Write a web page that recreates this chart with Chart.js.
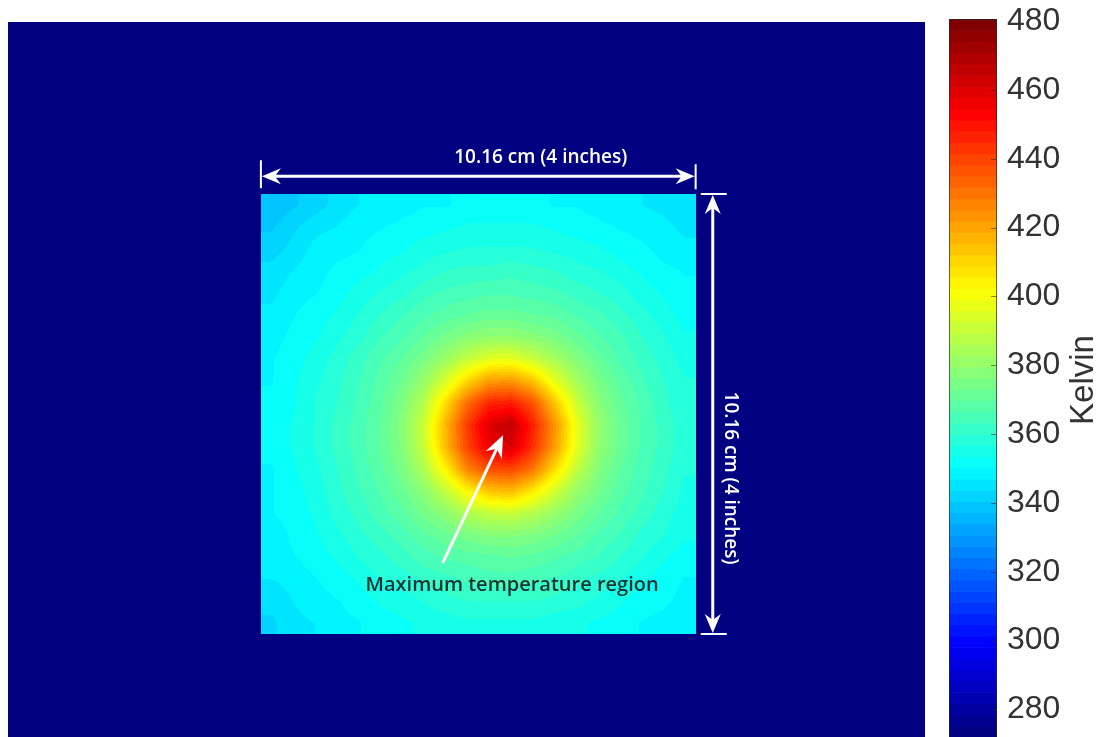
<!DOCTYPE html>
<html>
<head>
<meta charset="utf-8">
<script src="https://cdn.jsdelivr.net/npm/chart.js@4.4.1/dist/chart.umd.min.js"></script>
<style>
    body { margin: 0; background: #fff; width: 1108px; height: 737px; overflow: hidden; position: relative; }
    canvas { position: absolute; }
    #heat { left: 8px; top: 22px; }
    #bar { left: 940px; top: 0px; }
</style>
</head>
<body>
<canvas id="heat" width="917" height="715"></canvas>
<canvas id="bar" width="168" height="737"></canvas>
<script>
// Colour scale limits (Kelvin) and colorbar ticks
const colorMin = 272;
const colorMax = 480.6;
const tickValues = [280, 300, 320, 340, 360, 380, 400, 420, 440, 460, 480];

// Background (cold surroundings) temperature
const backgroundTemp = 274;

// Plate position in cm inside the camera frame
const frameWidth = 21.43;
const frameHeight = 16.51;
const plateLeft = 5.91;
const plateTop = 3.97;
const plateSize = 10.16;

// Plate temperatures (K), 20 x 20 cells, top row first
const plateTemps = [
    [338, 340, 342, 345, 347, 348, 349, 350, 350, 351, 351, 351, 351, 350, 350, 349, 348, 347, 346, 344],
    [340, 343, 346, 347, 349, 350, 351, 352, 353, 354, 354, 354, 354, 353, 352, 351, 350, 349, 348, 346],
    [342, 345, 348, 349, 350, 352, 353, 355, 356, 357, 357, 357, 357, 356, 355, 354, 352, 351, 349, 348],
    [345, 347, 349, 351, 352, 354, 356, 358, 360, 361, 361, 362, 361, 360, 358, 357, 355, 353, 351, 350],
    [346, 349, 350, 352, 355, 357, 359, 362, 364, 365, 366, 366, 365, 364, 362, 360, 358, 355, 353, 351],
    [348, 350, 352, 354, 357, 360, 363, 366, 368, 370, 371, 371, 370, 369, 366, 364, 361, 358, 355, 352],
    [349, 351, 353, 356, 359, 363, 366, 370, 374, 378, 380, 380, 378, 375, 371, 367, 364, 360, 357, 354],
    [350, 352, 355, 358, 362, 366, 370, 375, 382, 390, 396, 397, 391, 384, 377, 371, 366, 362, 359, 355],
    [350, 353, 356, 359, 363, 368, 373, 381, 394, 410, 422, 423, 414, 397, 384, 375, 369, 364, 360, 357],
    [351, 353, 357, 360, 364, 369, 376, 387, 409, 432, 446, 448, 437, 414, 392, 378, 371, 366, 361, 357],
    [351, 354, 357, 361, 365, 370, 378, 392, 417, 442, 460, 466, 447, 424, 398, 381, 372, 366, 362, 358],
    [351, 354, 357, 361, 365, 370, 377, 391, 416, 440, 457, 461, 444, 422, 397, 380, 372, 366, 362, 358],
    [350, 353, 356, 360, 364, 369, 375, 386, 404, 427, 438, 440, 430, 409, 390, 377, 370, 365, 361, 357],
    [350, 352, 355, 359, 363, 367, 372, 379, 390, 403, 414, 416, 406, 393, 381, 374, 368, 364, 360, 356],
    [350, 352, 354, 358, 361, 365, 369, 374, 379, 386, 390, 391, 387, 381, 375, 370, 366, 362, 358, 355],
    [348, 351, 353, 356, 359, 362, 365, 369, 372, 375, 377, 377, 376, 373, 370, 366, 363, 359, 357, 354],
    [348, 350, 352, 354, 357, 359, 362, 365, 367, 368, 369, 370, 369, 367, 365, 363, 360, 357, 354, 352],
    [347, 348, 350, 352, 354, 357, 358, 361, 362, 364, 365, 365, 364, 363, 361, 359, 357, 354, 352, 350],
    [345, 347, 349, 350, 352, 354, 355, 357, 359, 360, 360, 360, 360, 359, 358, 356, 354, 352, 351, 349],
    [343, 346, 347, 349, 350, 352, 353, 354, 355, 356, 356, 356, 356, 355, 354, 353, 352, 350, 349, 347]
];

// Annotation anchors (cm, same frame as the plate)
const widthArrowY = 3.56;
const heightArrowX = 16.47;
const widthLabel = { x: 12.45, y: 3.12, text: '10.16 cm (4 inches)' };
const heightLabel = { x: 16.89, y: 10.53, text: '10.16 cm (4 inches)' };
const hotLabel = { x: 11.78, y: 13.0, text: 'Maximum temperature region' };
const pointerFrom = { x: 10.16, y: 12.49 };
const pointerTo = { x: 11.57, y: 9.54 };

// MATLAB style jet colormap, 64 levels
const LEVELS = 64;
const clamp01 = v => Math.max(0, Math.min(1, v));
const palette = [];
for (let i = 0; i < LEVELS; i++) {
    const t = i / (LEVELS - 1);
    palette.push([
        Math.round(255 * clamp01(1.5 - Math.abs(4 * t - 3))),
        Math.round(255 * clamp01(1.5 - Math.abs(4 * t - 2))),
        Math.round(255 * clamp01(1.5 - Math.abs(4 * t - 1)))
    ]);
}
function colorIndex(temp) {
    const i = Math.floor((temp - colorMin) / (colorMax - colorMin) * LEVELS);
    return Math.max(0, Math.min(LEVELS - 1, i));
}
function colorFor(temp) {
    const c = palette[colorIndex(temp)];
    return `rgb(${c[0]},${c[1]},${c[2]})`;
}

// Temperature at a fractional cell position (shading interp)
function sampleGrid(u, v) {
    const rows = plateTemps.length, cols = plateTemps[0].length;
    u = Math.max(0, Math.min(cols - 1, u));
    v = Math.max(0, Math.min(rows - 1, v));
    const c0 = Math.floor(u), r0 = Math.floor(v);
    const c1 = Math.min(cols - 1, c0 + 1), r1 = Math.min(rows - 1, r0 + 1);
    const fu = u - c0, fv = v - r0;
    const top = plateTemps[r0][c0] * (1 - fu) + plateTemps[r0][c1] * fu;
    const bot = plateTemps[r1][c0] * (1 - fu) + plateTemps[r1][c1] * fu;
    return top * (1 - fv) + bot * fv;
}

function drawHead(ctx, fx, fy, tx, ty, len, half, notch) {
    const a = Math.atan2(ty - fy, tx - fx);
    const cos = Math.cos(a), sin = Math.sin(a);
    ctx.beginPath();
    ctx.moveTo(tx, ty);
    ctx.lineTo(tx - len * cos + half * sin, ty - len * sin - half * cos);
    ctx.lineTo(tx - notch * cos, ty - notch * sin);
    ctx.lineTo(tx - len * cos - half * sin, ty - len * sin + half * cos);
    ctx.closePath();
    ctx.fill();
}

// Thermal image: cold background + plate cells
const heatmapPlugin = {
    id: 'heatmap',
    beforeDatasetsDraw(chart) {
        const { ctx, chartArea: a, scales: { x, y } } = chart;
        ctx.save();
        ctx.fillStyle = colorFor(backgroundTemp);
        ctx.fillRect(a.left, a.top, a.width, a.height);

        const x0 = x.getPixelForValue(plateLeft);
        const x1 = x.getPixelForValue(plateLeft + plateSize);
        const y0 = y.getPixelForValue(plateTop);
        const y1 = y.getPixelForValue(plateTop + plateSize);
        const w = Math.round(x1 - x0), h = Math.round(y1 - y0);
        const rows = plateTemps.length, cols = plateTemps[0].length;

        const off = document.createElement('canvas');
        off.width = w;
        off.height = h;
        const octx = off.getContext('2d');
        const img = octx.createImageData(w, h);
        for (let py = 0; py < h; py++) {
            const v = (py + 0.5) / h * rows - 0.5;
            for (let px = 0; px < w; px++) {
                const u = (px + 0.5) / w * cols - 0.5;
                const c = palette[colorIndex(sampleGrid(u, v))];
                const k = (py * w + px) * 4;
                img.data[k] = c[0];
                img.data[k + 1] = c[1];
                img.data[k + 2] = c[2];
                img.data[k + 3] = 255;
            }
        }
        octx.putImageData(img, 0, 0);
        ctx.drawImage(off, Math.round(x0), Math.round(y0));
        ctx.restore();
    },
    afterDatasetsDraw(chart) {
        const { ctx, scales: { x, y } } = chart;
        const px = v => x.getPixelForValue(v);
        const py = v => y.getPixelForValue(v);
        ctx.save();
        ctx.strokeStyle = '#fff';
        ctx.fillStyle = '#fff';

        // width dimension
        const hx0 = px(plateLeft), hx1 = px(plateLeft + plateSize), hy = py(widthArrowY);
        ctx.lineWidth = 3;
        ctx.beginPath();
        ctx.moveTo(hx0 + 6, hy);
        ctx.lineTo(hx1 - 6, hy);
        ctx.stroke();
        ctx.lineWidth = 2;
        ctx.beginPath();
        ctx.moveTo(hx0, hy - 16); ctx.lineTo(hx0, hy + 12);
        ctx.moveTo(hx1, hy - 12); ctx.lineTo(hx1, hy + 13);
        ctx.stroke();
        drawHead(ctx, hx1, hy, hx0 + 1, hy, 19, 8, 13);
        drawHead(ctx, hx0, hy, hx1 - 1, hy, 19, 8, 13);

        // height dimension
        const vx = px(heightArrowX), vy0 = py(plateTop), vy1 = py(plateTop + plateSize);
        ctx.lineWidth = 3;
        ctx.beginPath();
        ctx.moveTo(vx, vy0 + 6);
        ctx.lineTo(vx, vy1 - 6);
        ctx.stroke();
        ctx.lineWidth = 2;
        ctx.beginPath();
        ctx.moveTo(vx - 12, vy0); ctx.lineTo(vx + 14, vy0);
        ctx.moveTo(vx - 12, vy1); ctx.lineTo(vx + 14, vy1);
        ctx.stroke();
        drawHead(ctx, vx, vy1, vx, vy0 + 1, 19, 8, 13);
        drawHead(ctx, vx, vy0, vx, vy1 - 1, 19, 8, 13);

        // pointer to the hot spot
        const fx = px(pointerFrom.x), fy = py(pointerFrom.y);
        const tx = px(pointerTo.x), ty = py(pointerTo.y);
        ctx.lineWidth = 3;
        ctx.beginPath();
        ctx.moveTo(fx, fy);
        ctx.lineTo(tx - (tx - fx) * 0.08, ty - (ty - fy) * 0.08);
        ctx.stroke();
        drawHead(ctx, fx, fy, tx, ty, 22, 9, 15);

        // labels
        ctx.font = '600 19px "Open Sans", "Noto Sans", sans-serif';
        ctx.textAlign = 'center';
        ctx.textBaseline = 'middle';
        ctx.fillText(widthLabel.text, px(widthLabel.x), py(widthLabel.y));
        ctx.save();
        ctx.translate(px(heightLabel.x), py(heightLabel.y));
        ctx.rotate(Math.PI / 2);
        ctx.fillText(heightLabel.text, 0, 0);
        ctx.restore();

        ctx.fillStyle = '#173232';
        ctx.font = '600 20px "Open Sans", "Noto Sans", sans-serif';
        ctx.fillText(hotLabel.text, px(hotLabel.x), py(hotLabel.y));
        ctx.restore();
    }
};

// Colorbar: 64 bands drawn along the Kelvin scale
const colorbarPlugin = {
    id: 'colorbar',
    beforeDatasetsDraw(chart) {
        const { ctx, chartArea: a, scales: { y } } = chart;
        ctx.save();
        for (let i = 0; i < LEVELS; i++) {
            const lo = colorMin + (colorMax - colorMin) * i / LEVELS;
            const hi = colorMin + (colorMax - colorMin) * (i + 1) / LEVELS;
            const yTop = y.getPixelForValue(hi), yBot = y.getPixelForValue(lo);
            const c = palette[i];
            ctx.fillStyle = `rgb(${c[0]},${c[1]},${c[2]})`;
            ctx.fillRect(a.left, yTop, a.width, yBot - yTop + 0.6);
        }
        // tick marks on the inner right edge
        ctx.strokeStyle = 'rgba(40,40,40,0.55)';
        ctx.lineWidth = 1;
        ctx.beginPath();
        tickValues.forEach(v => {
            const ty = Math.round(y.getPixelForValue(v)) + 0.5;
            ctx.moveTo(a.right - 6, ty);
            ctx.lineTo(a.right, ty);
        });
        ctx.stroke();
        ctx.strokeStyle = 'rgba(40,40,40,0.7)';
        ctx.strokeRect(a.left + 0.5, a.top + 0.5, a.width - 1, a.height);

        // axis label, reading bottom to top
        ctx.translate(y.right - 24, (a.top + a.bottom) / 2 + 2);
        ctx.rotate(-Math.PI / 2);
        ctx.fillStyle = '#333';
        ctx.font = '33px "Liberation Sans", Arial, sans-serif';
        ctx.textAlign = 'center';
        ctx.textBaseline = 'middle';
        ctx.fillText('Kelvin', 0, 0);
        ctx.restore();
    }
};

document.addEventListener('DOMContentLoaded', function() {
    // Cell centres go in as a (hidden) dataset so the chart owns them
    const cells = [];
    const step = plateSize / plateTemps.length;
    plateTemps.forEach((row, r) => row.forEach((t, c) => {
        cells.push({ x: plateLeft + (c + 0.5) * step, y: plateTop + (r + 0.5) * step, t: t });
    }));

    new Chart(document.getElementById('heat'), {
        type: 'scatter',
        data: { datasets: [{ data: cells, pointRadius: 0 }] },
        options: {
            responsive: false,
            animation: false,
            devicePixelRatio: 1,
            layout: { padding: 0 },
            plugins: { legend: { display: false }, tooltip: { enabled: false } },
            scales: {
                x: { type: 'linear', min: 0, max: frameWidth, display: false },
                y: { type: 'linear', min: 0, max: frameHeight, reverse: true, display: false }
            }
        },
        plugins: [heatmapPlugin]
    });

    new Chart(document.getElementById('bar'), {
        type: 'scatter',
        data: { datasets: [{ data: [], pointRadius: 0 }] },
        options: {
            responsive: false,
            animation: false,
            devicePixelRatio: 1,
            layout: { padding: { left: 9, top: 19, right: 0, bottom: 0 } },
            plugins: { legend: { display: false }, tooltip: { enabled: false } },
            scales: {
                x: { type: 'linear', min: 0, max: 1, display: false },
                y: {
                    type: 'linear',
                    position: 'right',
                    min: colorMin,
                    max: colorMax,
                    afterBuildTicks: s => { s.ticks = tickValues.map(v => ({ value: v })); },
                    afterFit: s => { s.width = 111; s.paddingTop = 0; s.paddingBottom = 0; },
                    grid: { display: false, drawTicks: false },
                    border: { display: false },
                    ticks: {
                        padding: 10,
                        color: '#333',
                        font: { family: '"Liberation Sans", Arial, sans-serif', size: 32 }
                    }
                }
            }
        },
        plugins: [colorbarPlugin]
    });
});
</script>
</body>
</html>
